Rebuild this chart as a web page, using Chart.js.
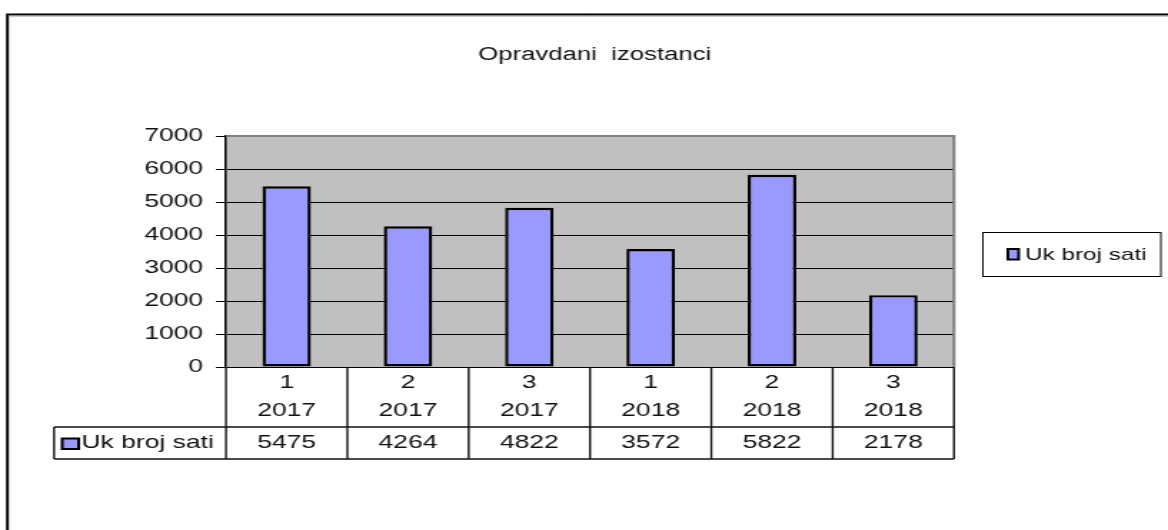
<!DOCTYPE html>
<html>
<head>
<meta charset="utf-8">
<script src="https://cdn.jsdelivr.net/npm/chart.js@4.4.1/dist/chart.umd.min.js"></script>
<style>
  html, body { margin: 0; padding: 0; background: #fff; overflow: hidden; }
  #wrap { width: 1168px; height: 530px; overflow: hidden; }
  #c { display: block; transform: scaleX(1.42962); transform-origin: 0 0; }
</style>
</head>
<body>
<div id="wrap"><canvas id="c" width="817" height="530"></canvas></div>
<script>
// ---- data ----
const chartTitle = 'Opravdani  izostanci';
const seriesName = 'Uk broj sati';
const quarters = ['1', '2', '3', '1', '2', '3'];
const years = ['2017', '2017', '2017', '2018', '2018', '2018'];
const ukBrojSati = [5475, 4264, 4822, 3572, 5822, 2178];
const yMin = 0, yMax = 7000, yStep = 1000;

const labels = quarters.map((q, i) => [q, years[i]]);

const FONT = '"Liberation Sans", Arial, sans-serif';
const BAR_FILL = '#9999FF';
const PLOT_BG = '#C0C0C0';

const excelPlugin = {
  id: 'excel',
  beforeDraw(chart) {
    const ctx = chart.ctx, a = chart.chartArea;
    ctx.save();
    ctx.fillStyle = '#fff';
    ctx.fillRect(0, 0, chart.width, chart.height);
    ctx.fillStyle = PLOT_BG;
    ctx.fillRect(a.left, a.top, a.right - a.left, a.bottom - a.top);
    ctx.restore();
  },
  afterDraw(chart) {
    const ctx = chart.ctx, a = chart.chartArea;
    const xs = chart.scales.x;
    ctx.save();
    // outer frame
    ctx.strokeStyle = '#000';
    ctx.lineWidth = 2;
    ctx.beginPath();
    ctx.moveTo(5.2, 530); ctx.lineTo(5.2, 14.5); ctx.lineTo(817, 14.5);
    ctx.stroke();
    ctx.strokeStyle = '#9a9a9a';
    ctx.lineWidth = 1;
    ctx.beginPath();
    ctx.moveTo(6.5, 16); ctx.lineTo(817, 16);
    ctx.stroke();

    // title
    ctx.fillStyle = '#111';
    ctx.font = '18px ' + FONT;
    ctx.textAlign = 'center';
    ctx.textBaseline = 'middle';
    ctx.fillText(chartTitle, 416, 55);

    // plot border (top/right gray)
    ctx.strokeStyle = '#808080';
    ctx.lineWidth = 2;
    ctx.beginPath();
    ctx.moveTo(a.left, a.top); ctx.lineTo(a.right, a.top); ctx.lineTo(a.right, a.bottom);
    ctx.stroke();

    // data table
    const n = labels.length;
    const tTop = a.bottom, hBot = 427, tBot = 459, tLeft = 37.8;
    ctx.strokeStyle = '#111';
    ctx.lineWidth = 1.4;
    ctx.beginPath();
    for (let i = 0; i <= n; i++) {
      const x = i === 0 ? a.left : (i === n ? a.right : (xs.getPixelForTick(i - 1) + xs.getPixelForTick(i)) / 2);
      ctx.moveTo(x, tTop); ctx.lineTo(x, tBot);
    }
    ctx.moveTo(tLeft, hBot); ctx.lineTo(a.right, hBot);
    ctx.moveTo(tLeft, tBot); ctx.lineTo(a.right, tBot);
    ctx.moveTo(tLeft, hBot); ctx.lineTo(tLeft, tBot);
    ctx.stroke();

    ctx.fillStyle = '#111';
    ctx.font = '18.5px ' + FONT;
    ctx.textAlign = 'center';
    ctx.textBaseline = 'middle';
    for (let i = 0; i < n; i++) {
      const cx = xs.getPixelForTick(i);
      ctx.fillText(labels[i][0], cx, 383);
      ctx.fillText(labels[i][1], cx, 411);
      ctx.fillText(String(chart.data.datasets[0].data[i]), cx, 443);
    }
    // series key in table
    ctx.fillStyle = BAR_FILL;
    ctx.strokeStyle = '#000';
    ctx.lineWidth = 2;
    ctx.fillRect(43.5, 438.5, 11.5, 10.5);
    ctx.strokeRect(43.5, 438.5, 11.5, 10.5);
    ctx.fillStyle = '#111';
    ctx.textAlign = 'left';
    ctx.fillText(seriesName, 57, 443);

    // legend box
    ctx.strokeStyle = '#000';
    ctx.lineWidth = 1;
    ctx.strokeRect(687.5, 232.5, 124.5, 44);
    ctx.fillStyle = BAR_FILL;
    ctx.lineWidth = 2;
    ctx.fillRect(705, 249, 7.5, 10.5);
    ctx.strokeRect(705, 249, 7.5, 10.5);
    ctx.fillStyle = '#111';
    ctx.font = '17px ' + FONT;
    ctx.textAlign = 'left';
    ctx.fillText(seriesName, 717, 255);
    ctx.restore();
  }
};

new Chart(document.getElementById('c'), {
  type: 'bar',
  data: {
    labels: labels,
    datasets: [{
      label: seriesName,
      data: ukBrojSati,
      backgroundColor: BAR_FILL,
      borderColor: '#000',
      borderWidth: 2.4,
      borderSkipped: false,
      categoryPercentage: 1.0,
      barPercentage: 0.4
    }]
  },
  options: {
    responsive: false,
    devicePixelRatio: 1,
    animation: false,
    events: [],
    layout: { padding: { top: 136, right: 149.7, bottom: 0, left: 0 } },
    plugins: { legend: { display: false }, title: { display: false }, tooltip: { enabled: false } },
    scales: {
      x: {
        offset: true,
        ticks: { display: false },
        grid: { display: false },
        border: { display: false },
        afterFit(s) { s.height = 163; }
      },
      y: {
        min: yMin, max: yMax,
        ticks: {
          stepSize: yStep,
          padding: 9,
          color: '#111',
          font: { family: FONT, size: 18.5 },
          callback: v => String(v)
        },
        grid: {
          color: c => (c.tick && c.tick.value === yMax) ? '#808080' : '#000',
          tickColor: '#000',
          tickLength: 7,
          lineWidth: 1
        },
        border: { display: true, color: '#000', width: 1.5 },
        afterFit(s) { s.width = 158.1; }
      }
    }
  },
  plugins: [excelPlugin]
});
</script>
</body>
</html>
